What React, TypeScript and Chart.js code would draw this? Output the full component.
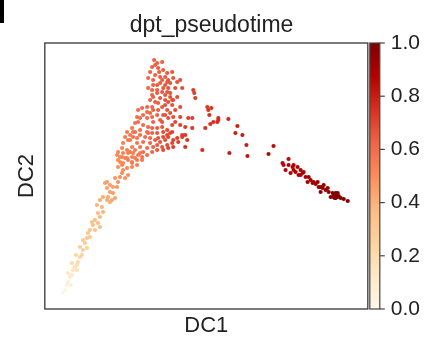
import React, { useEffect, useRef } from "react";
import { Chart, registerables } from "chart.js";
Chart.register(...registerables);

// Diffusion-component coordinates (arbitrary units)
const dc1 = [
  302, 292, 288, 290, 287, 293, 283, 280, 277, 278, 273, 270, 268, 265, 262, 260, 257, 253, 250, 248,
  247, 245, 243, 240, 238, 237, 243, 252, 255, 258, 263, 267, 275, 282, 285, 295, 298, 291, 289,
  228, 223, 202, 201, 197, 192, 190, 183, 184, 173, 172, 168, 165, 164, 166, 162, 157, 160, 150, 149,
  148, 147, 143, 147, 140, 137,
  109, 112, 117, 107, 113, 118, 122, 127, 128, 132, 135, 137, 132, 125, 105, 103, 108, 112, 115, 118,
  122, 107, 112, 115, 120, 123, 127, 130, 135, 122, 117, 110, 105, 102, 97, 93, 98, 107, 112, 115,
  123, 128, 135, 140, 127, 122, 118, 112, 107, 103, 98, 93, 90, 87, 82, 80, 83, 88, 95, 100,
  105, 110, 115, 120, 123, 125, 128, 132, 133, 137, 122, 117, 112, 108, 105, 102, 98, 95, 92, 87,
  82, 78, 75, 73, 77, 80, 83, 87, 90, 93, 97, 92, 87, 82, 78, 75, 77, 80, 83,
  110, 114, 120, 123, 110, 117, 120, 123, 117, 108, 113, 120, 107, 102, 125, 128, 118, 108, 117, 122,
  127, 118, 127, 113, 107, 102, 95, 90, 85, 78, 85, 90, 95, 78, 73, 87, 77,
  60, 62, 65, 68, 63, 67, 70, 65, 62, 68, 73, 70, 57, 58, 53, 50, 53, 55, 47, 50,
  45, 42, 43, 40, 38, 37, 35, 33, 32, 30, 28, 27, 25, 23, 22, 20, 18,
  115, 122, 112, 108, 103, 107, 120, 125, 130, 127, 108, 113, 105, 102, 95, 92, 88, 85, 92, 98,
  103, 112, 117, 120, 125, 130, 135, 140, 142, 128, 123, 118, 112, 107, 102, 97, 92, 87, 82, 77,
  73, 72, 83, 88,
  55, 58, 52, 55, 48, 45, 38, 35, 42, 31, 27, 32, 23, 26, 62, 65, 72, 75,
  248, 255, 272, 275, 288, 292, 290, 163, 173,
];
const dc2 = [
  108, 112, 114, 116, 116, 113, 117, 119, 121, 124, 122, 125, 127, 129, 127, 132, 136, 134, 137, 139,
  142, 136, 144, 139, 144, 146, 150, 142, 139, 137, 132, 126, 117, 121, 112, 111, 110, 114, 111,
  163, 155, 153, 164, 174, 183, 176, 190, 156, 189, 187, 187, 185, 194, 201, 202, 159, 181, 211, 216,
  219, 181, 191, 191, 162, 174,
  249, 246, 247, 242, 241, 239, 236, 237, 231, 227, 229, 221, 212, 226, 237, 231, 229, 224, 226, 221,
  217, 219, 216, 211, 209, 207, 204, 199, 202, 199, 202, 207, 209, 202, 201, 199, 194, 192, 194, 189,
  191, 192, 192, 182, 184, 179, 177, 176, 181, 182, 184, 187, 186, 181, 177, 172, 169, 172, 174, 172,
  171, 169, 167, 169, 172, 176, 169, 171, 167, 172, 164, 162, 164, 162, 166, 161, 157, 162, 166, 162,
  159, 156, 152, 157, 161, 151, 149, 152, 151, 154, 149, 144, 142, 141, 146, 147, 136, 131, 134,
  244, 237, 232, 229, 234, 229, 224, 221, 217, 212, 206, 204, 202, 197, 212, 209, 194, 187, 182, 174,
  177, 172, 166, 171, 176, 177, 179, 177, 174, 166, 157, 159, 156, 139, 142, 146, 152,
  126, 121, 117, 116, 112, 109, 111, 107, 109, 122, 127, 131, 102, 97, 96, 89, 86, 82, 87, 79,
  72, 71, 76, 66, 59, 54, 52, 47, 44, 42, 39, 34, 32, 27, 24, 19, 16,
  232, 227, 219, 224, 221, 214, 214, 216, 221, 209, 199, 199, 196, 191, 191, 192, 177, 169, 171, 167,
  176, 181, 187, 194, 196, 187, 184, 174, 169, 162, 161, 159, 159, 157, 154, 152, 149, 147, 151, 144,
  149, 154, 156, 156,
  109, 112, 104, 92, 84, 79, 69, 62, 61, 54, 46, 39, 36, 24, 127, 124, 122, 132,
  144, 134, 127, 122, 112, 116, 111, 199, 191,
];
const pseudotime = [
  1.0, 0.98, 0.98, 0.98, 0.97, 0.99, 0.96, 0.95, 0.94, 0.94, 0.93, 0.92, 0.92, 0.91, 0.9, 0.9, 0.89, 0.89, 0.88, 0.88,
  0.87, 0.88, 0.87, 0.87, 0.86, 0.86, 0.86, 0.88, 0.89, 0.9, 0.91, 0.92, 0.95, 0.95, 0.97, 0.99, 0.99, 0.99, 0.99,
  0.85, 0.85, 0.82, 0.8, 0.8, 0.79, 0.79, 0.77, 0.8, 0.76, 0.76, 0.75, 0.75, 0.74, 0.74, 0.73, 0.76, 0.75, 0.72, 0.72,
  0.72, 0.73, 0.72, 0.72, 0.74, 0.72,
  0.63, 0.63, 0.64, 0.63, 0.64, 0.64, 0.65, 0.66, 0.66, 0.67, 0.67, 0.68, 0.68, 0.66, 0.63, 0.62, 0.63, 0.64, 0.64, 0.65,
  0.66, 0.63, 0.64, 0.65, 0.66, 0.67, 0.67, 0.68, 0.68, 0.66, 0.65, 0.64, 0.63, 0.62, 0.61, 0.6, 0.6, 0.62, 0.63, 0.64,
  0.67, 0.68, 0.7, 0.72, 0.69, 0.69, 0.68, 0.65, 0.63, 0.62, 0.6, 0.59, 0.58, 0.57, 0.56, 0.55, 0.56, 0.57, 0.59, 0.6,
  0.62, 0.64, 0.66, 0.68, 0.69, 0.7, 0.7, 0.71, 0.71, 0.72, 0.68, 0.66, 0.64, 0.63, 0.62, 0.61, 0.59, 0.58, 0.57, 0.55,
  0.54, 0.53, 0.52, 0.52, 0.53, 0.53, 0.54, 0.55, 0.55, 0.56, 0.56, 0.54, 0.53, 0.52, 0.51, 0.5, 0.5, 0.49, 0.5,
  0.63, 0.64, 0.65, 0.66, 0.63, 0.64, 0.65, 0.66, 0.65, 0.63, 0.64, 0.66, 0.62, 0.61, 0.67, 0.67, 0.65, 0.63, 0.66, 0.69,
  0.7, 0.68, 0.7, 0.66, 0.63, 0.61, 0.59, 0.58, 0.56, 0.54, 0.55, 0.56, 0.57, 0.5, 0.49, 0.54, 0.52,
  0.44, 0.44, 0.45, 0.46, 0.43, 0.43, 0.44, 0.42, 0.42, 0.46, 0.48, 0.48, 0.4, 0.39, 0.38, 0.36, 0.36, 0.35, 0.35, 0.34,
  0.32, 0.31, 0.32, 0.3, 0.27, 0.25, 0.23, 0.21, 0.19, 0.17, 0.15, 0.12, 0.1, 0.07, 0.05, 0.02, 0.0,
  0.64, 0.65, 0.64, 0.63, 0.62, 0.63, 0.66, 0.67, 0.67, 0.67, 0.63, 0.64, 0.62, 0.61, 0.6, 0.59, 0.57, 0.56, 0.57, 0.59,
  0.61, 0.64, 0.66, 0.66, 0.67, 0.69, 0.71, 0.73, 0.74, 0.71, 0.7, 0.68, 0.65, 0.62, 0.6, 0.58, 0.56, 0.55, 0.54, 0.52,
  0.51, 0.51, 0.54, 0.55,
  0.41, 0.42, 0.39, 0.37, 0.35, 0.33, 0.3, 0.28, 0.28, 0.24, 0.2, 0.16, 0.13, 0.06, 0.45, 0.46, 0.47, 0.49,
  0.87, 0.89, 0.93, 0.94, 0.98, 0.98, 0.98, 0.74, 0.76,
];
const colorbarTicks = [0, 0.2, 0.4, 0.6, 0.8, 1.0];
const titleText = "dpt_pseudotime";
const xTitle = "DC1";
const yTitle = "DC2";

const ORRD = ["#fff7ec", "#fee8c8", "#fdd49e", "#fdbb84", "#fc8d59", "#ef6548", "#d7301f", "#b30000", "#7f0000"];

function hexToRgb(h: string) {
  const n = parseInt(h.slice(1), 16);
  return [(n >> 16) & 255, (n >> 8) & 255, n & 255];
}
function orrd(t: number) {
  const s = Math.min(1, Math.max(0, t)) * 8;
  const i = Math.min(7, Math.floor(s));
  const f = s - i;
  const a = hexToRgb(ORRD[i]);
  const b = hexToRgb(ORRD[i + 1]);
  const c = a.map((v, k) => Math.round(v + (b[k] - v) * f));
  return `rgb(${c[0]},${c[1]},${c[2]})`;
}

const FONT = "'Liberation Sans', Arial, Helvetica, sans-serif";

const colorbarPlugin = {
  id: "colorbar",
  afterDraw(chart: any) {
    const { ctx, chartArea } = chart;
    const s = chart.scales.c;
    const top = s.getPixelForValue(1);
    const bot = s.getPixelForValue(0);
    const x0 = chartArea.right + 2;
    const w = 10;
    const g = ctx.createLinearGradient(0, bot, 0, top);
    ORRD.forEach((c, i) => g.addColorStop(i / 8, c));
    ctx.save();
    ctx.fillStyle = g;
    ctx.fillRect(x0, top, w, bot - top);
    ctx.strokeStyle = "#444";
    ctx.lineWidth = 1.2;
    ctx.strokeRect(x0, top, w, bot - top);
    s.ticks.forEach((t: any) => {
      const y = s.getPixelForValue(t.value);
      ctx.beginPath();
      ctx.moveTo(x0 + w, y);
      ctx.lineTo(x0 + w + 5, y);
      ctx.stroke();
    });
    ctx.lineWidth = 1.4;
    ctx.strokeRect(chartArea.left, chartArea.top, chartArea.right - chartArea.left, chartArea.bottom - chartArea.top);
    ctx.restore();
  },
};

export default function App() {
  const ref = useRef<HTMLCanvasElement | null>(null);
  useEffect(() => {
    document.body.style.margin = "0";
    const idx = pseudotime.map((_, i) => i).sort((a, b) => pseudotime[a] - pseudotime[b]);
    const data = idx.map((i) => ({ x: dc1[i], y: dc2[i] }));
    const colors = idx.map((i) => orrd(pseudotime[i]));
    const chart = new Chart(ref.current as HTMLCanvasElement, {
      type: "scatter",
      data: {
        datasets: [
          {
            data,
            backgroundColor: colors,
            borderWidth: 0,
            pointRadius: 2.1,
            pointHoverRadius: 2.1,
          },
        ],
      },
      options: {
        animation: false,
        responsive: true,
        maintainAspectRatio: false,
        layout: { padding: { right: 19 } },
        plugins: {
          legend: { display: false },
          tooltip: { enabled: false },
          title: {
            display: true,
            text: titleText,
            color: "#222",
            font: { family: FONT, size: 23, weight: "normal" },
            padding: { top: 11.6, bottom: 3.8 },
          },
        },
        scales: {
          x: {
            type: "linear",
            min: 0,
            max: 322,
            ticks: { display: false },
            grid: { display: false, drawTicks: false },
            border: { display: false },
            title: {
              display: true,
              text: xTitle,
              color: "#222",
              font: { family: FONT, size: 22 },
              padding: { top: 3.6, bottom: 0 },
            },
          },
          y: {
            type: "linear",
            min: 0,
            max: 266,
            ticks: { display: false },
            grid: { display: false, drawTicks: false },
            border: { display: false },
            title: {
              display: true,
              text: yTitle,
              color: "#222",
              font: { family: FONT, size: 22 },
              padding: { top: 14, bottom: 4.4 },
            },
          },
          c: {
            type: "linear",
            position: "right",
            min: 0,
            max: 1,
            afterBuildTicks: (s: any) => {
              s.ticks = colorbarTicks.map((v) => ({ value: v }));
            },
            ticks: {
              padding: 3,
              color: "#222",
              font: { family: FONT, size: 21 },
              callback: (v: any) => Number(v).toFixed(1),
            },
            grid: { display: false, drawTicks: true, tickLength: 20 },
            border: { display: false },
          },
        },
      },
      plugins: [colorbarPlugin],
    });
    return () => chart.destroy();
  }, []);
  return (
    <div style={{ position: "fixed", left: 0, top: 0, width: 442, height: 339, background: "#fff" }}>
      <div style={{ position: "absolute", left: 0, top: 0, width: 4, height: 23, background: "#000" }} />
      <canvas ref={ref} />
    </div>
  );
}
